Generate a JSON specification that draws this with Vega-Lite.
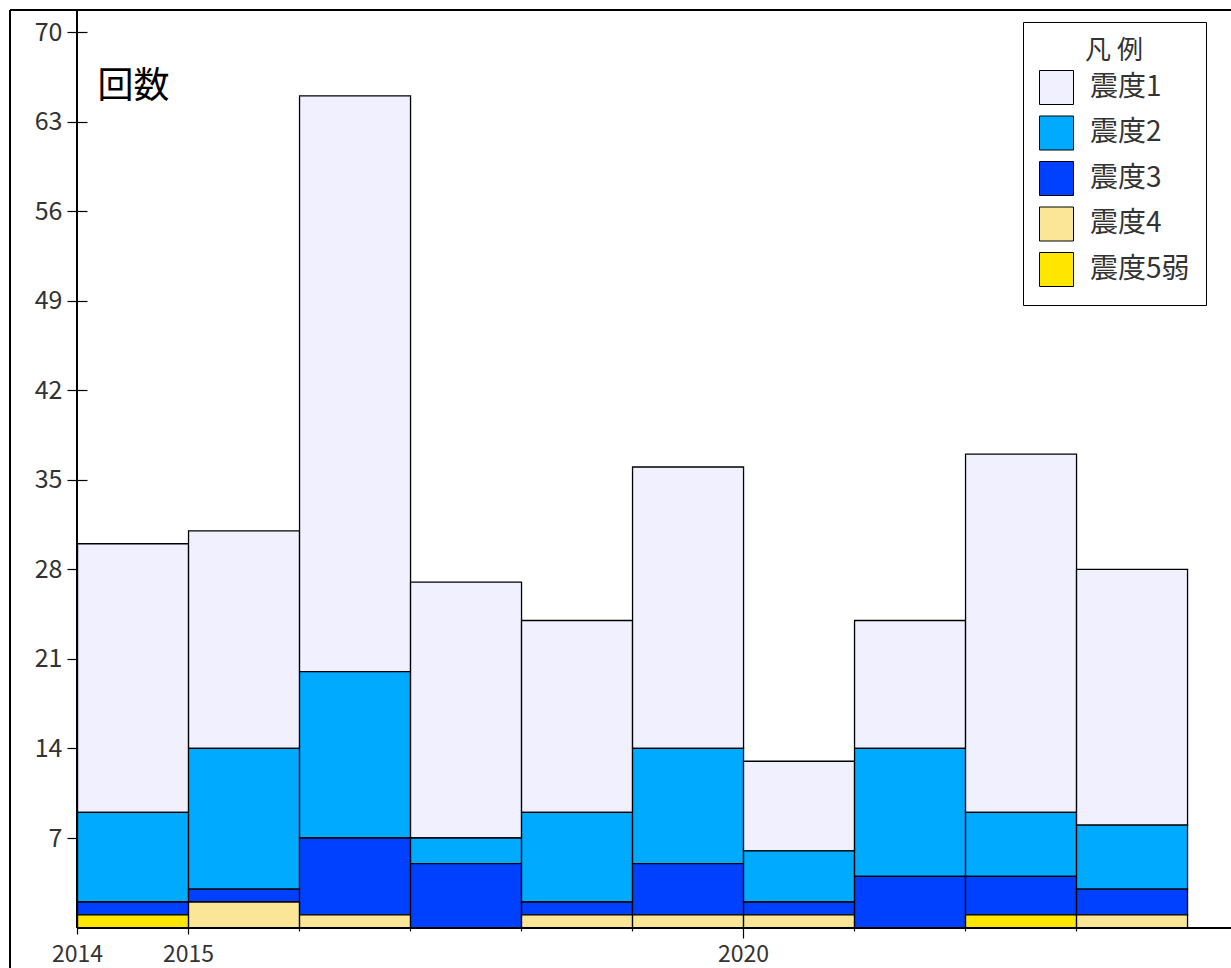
{
  "$schema": "https://vega.github.io/schema/vega-lite/v6.json",
  "width": 1221,
  "height": 958,
  "padding": {"left": 10, "top": 10, "right": 0, "bottom": 0},
  "autosize": {"type": "none"},
  "background": "white",
  "config": {"view": {"stroke": null}, "font": "Noto Sans CJK JP"},
  "data": {
    "values": [
      {"year": 2014, "level": "震度1", "count": 21},
      {"year": 2014, "level": "震度2", "count": 7},
      {"year": 2014, "level": "震度3", "count": 1},
      {"year": 2014, "level": "震度5弱", "count": 1},
      {"year": 2015, "level": "震度1", "count": 17},
      {"year": 2015, "level": "震度2", "count": 11},
      {"year": 2015, "level": "震度3", "count": 1},
      {"year": 2015, "level": "震度4", "count": 2},
      {"year": 2016, "level": "震度1", "count": 45},
      {"year": 2016, "level": "震度2", "count": 13},
      {"year": 2016, "level": "震度3", "count": 6},
      {"year": 2016, "level": "震度4", "count": 1},
      {"year": 2017, "level": "震度1", "count": 20},
      {"year": 2017, "level": "震度2", "count": 2},
      {"year": 2017, "level": "震度3", "count": 5},
      {"year": 2018, "level": "震度1", "count": 15},
      {"year": 2018, "level": "震度2", "count": 7},
      {"year": 2018, "level": "震度3", "count": 1},
      {"year": 2018, "level": "震度4", "count": 1},
      {"year": 2019, "level": "震度1", "count": 22},
      {"year": 2019, "level": "震度2", "count": 9},
      {"year": 2019, "level": "震度3", "count": 4},
      {"year": 2019, "level": "震度4", "count": 1},
      {"year": 2020, "level": "震度1", "count": 7},
      {"year": 2020, "level": "震度2", "count": 4},
      {"year": 2020, "level": "震度3", "count": 1},
      {"year": 2020, "level": "震度4", "count": 1},
      {"year": 2021, "level": "震度1", "count": 10},
      {"year": 2021, "level": "震度2", "count": 10},
      {"year": 2021, "level": "震度3", "count": 4},
      {"year": 2022, "level": "震度1", "count": 28},
      {"year": 2022, "level": "震度2", "count": 5},
      {"year": 2022, "level": "震度3", "count": 3},
      {"year": 2022, "level": "震度5弱", "count": 1},
      {"year": 2023, "level": "震度1", "count": 20},
      {"year": 2023, "level": "震度2", "count": 5},
      {"year": 2023, "level": "震度3", "count": 2},
      {"year": 2023, "level": "震度4", "count": 1}
    ]
  },
  "layer": [
    {
      "mark": {"type": "bar", "binSpacing": 0, "stroke": "black", "strokeWidth": 1.3},
      "encoding": {
        "x": {
          "field": "year",
          "type": "quantitative",
          "bin": {"step": 1, "extent": [2014, 2024]},
          "scale": {"domain": [2013.396, 2024.396], "nice": false, "zero": false},
          "axis": {
            "title": null,
            "values": [2014, 2015, 2016, 2017, 2018, 2019, 2020, 2021, 2022, 2023],
            "format": "d",
            "labelExpr": "indexof([2014, 2015, 2020], datum.value) >= 0 ? datum.label : ''",
            "offset": -40,
            "domain": false,
            "grid": false,
            "tickColor": "black",
            "tickWidth": 1.2,
            "tickSize": {"condition": [{"test": "datum.value == 2020", "value": 10}, {"test": "datum.value == 2014 || datum.value == 2015", "value": 6}], "value": 3},
            "labelPadding": {"condition": {"test": "datum.value == 2020", "value": 5}, "value": 9},
            "labelFontSize": 23,
            "labelColor": "#333333",
            "labelFont": "Noto Sans CJK JP"
          }
        },
        "y": {
          "aggregate": "sum",
          "field": "count",
          "type": "quantitative",
          "stack": "zero",
          "scale": {"domain": [-3.16, 71.72], "nice": false, "zero": false},
          "axis": {
            "values": [7, 14, 21, 28, 35, 42, 49, 56, 63, 70],
            "offset": -77,
            "tickSize": 20,
            "tickColor": "black",
            "tickWidth": 1.2,
            "labelPadding": 5,
            "labelFontSize": 25,
            "labelColor": "#333333",
            "labelFont": "Noto Sans CJK JP",
            "domain": false,
            "grid": false,
            "title": "回数",
            "titleAngle": 0,
            "titleAlign": "left",
            "titleBaseline": "middle",
            "titleX": 10,
            "titleY": 76,
            "titleFontSize": 36,
            "titleFontWeight": "normal",
            "titleColor": "black",
            "titleFont": "Noto Sans CJK JP"
          }
        },
        "color": {
          "field": "level",
          "type": "nominal",
          "scale": {
            "domain": ["震度1", "震度2", "震度3", "震度4", "震度5弱"],
            "range": ["#F0F0FF", "#00AAFF", "#0041FF", "#FAE696", "#FFE600"]
          },
          "legend": {
            "title": "凡 例",
            "orient": "none",
            "legendX": 1013,
            "legendY": 12,
            "direction": "vertical",
            "strokeColor": "black",
            "fillColor": "white",
            "padding": 16,
            "symbolType": "square",
            "symbolSize": 1156,
            "symbolStrokeColor": "black",
            "symbolStrokeWidth": 1,
            "symbolOpacity": 1,
            "rowPadding": 6.5,
            "labelOffset": 16,
            "labelFontSize": 28,
            "labelColor": "#333333",
            "labelFont": "Noto Sans CJK JP",
            "titleFontSize": 26,
            "titleFontWeight": "normal",
            "titleColor": "#333333",
            "titleFont": "Noto Sans CJK JP",
            "titleAnchor": "middle",
            "titleLineHeight": 26,
            "titlePadding": 6
          }
        },
        "order": {"field": "level", "sort": "descending"}
      }
    },
    {
      "mark": {"type": "rule", "color": "black", "strokeWidth": 1.3},
      "encoding": {"x": {"datum": 2014}, "y": {"datum": 0}, "y2": {"datum": 71.72}}
    },
    {
      "mark": {"type": "rule", "color": "black", "strokeWidth": 1.3},
      "encoding": {"y": {"datum": 0}, "x": {"datum": 2014}, "x2": {"datum": 2024.396}}
    },
    {
      "mark": {"type": "rule", "color": "black", "strokeWidth": 1.3},
      "encoding": {"x": {"datum": 2013.396}, "y": {"datum": -3.16}, "y2": {"datum": 71.72}}
    },
    {
      "mark": {"type": "rule", "color": "black", "strokeWidth": 1.3},
      "encoding": {"y": {"datum": 71.72}, "x": {"datum": 2013.396}, "x2": {"datum": 2024.396}}
    }
  ]
}
